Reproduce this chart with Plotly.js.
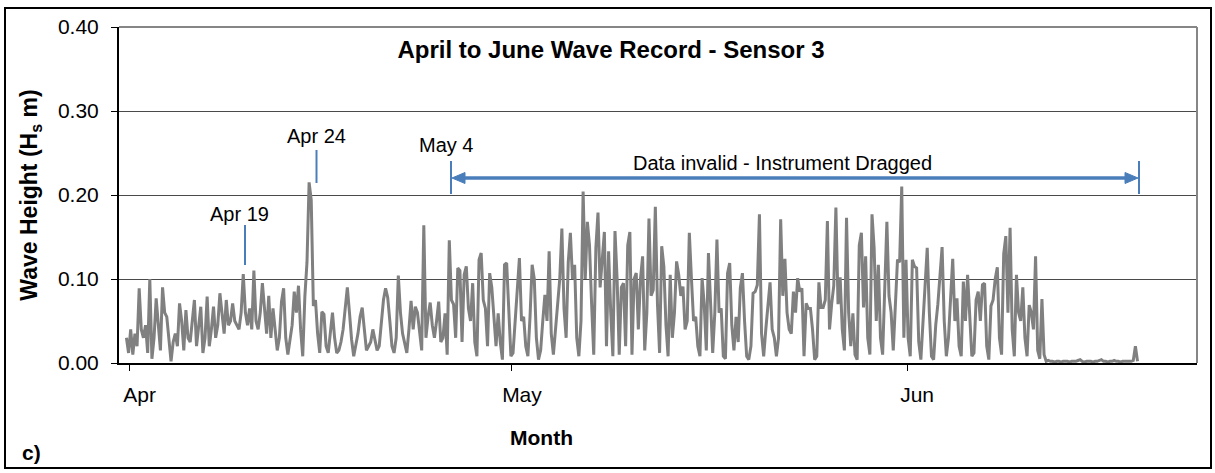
<!DOCTYPE html>
<html>
<head>
<meta charset="utf-8">
<script src="https://cdn.plot.ly/plotly-3.0.1.min.js"></script>
<style>
  html, body { margin: 0; padding: 0; background: #ffffff; }
  #chart { width: 1215px; height: 473px; }
</style>
</head>
<body>
<div id="chart"></div>
<script>
// ---- Data: significant wave height (m), one reading every 4 hours ----
const recordStart = "2013-03-31T18:00:00Z";
const stepHours = 4;

const hsEarlyApril = [
  0.03, 0.012, 0.04, 0.01, 0.035, 0.02, 0.089, 0.04, 0.03, 0.045,
  0.012, 0.10, 0.005, 0.03, 0.077, 0.04, 0.015, 0.09, 0.06, 0.055,
  0.03, 0.002, 0.025, 0.035, 0.02, 0.071, 0.05, 0.015, 0.063, 0.03,
  0.025, 0.05, 0.075, 0.02, 0.04, 0.067, 0.012, 0.03, 0.079, 0.02,
  0.04, 0.067, 0.03, 0.045, 0.083, 0.055, 0.035, 0.075, 0.045, 0.05,
  0.071, 0.05, 0.045, 0.04, 0.06, 0.106, 0.06, 0.045, 0.065, 0.04,
  0.11, 0.05, 0.04, 0.06, 0.095, 0.065, 0.035, 0.08, 0.03, 0.065,
  0.04, 0.015, 0.03
];
const hsMidApril = [
  0.073, 0.089, 0.03, 0.01, 0.03, 0.045, 0.085, 0.06, 0.092, 0.04,
  0.008, 0.079, 0.12, 0.215, 0.194, 0.068, 0.075, 0.035, 0.012, 0.061,
  0.058, 0.02, 0.012, 0.04, 0.06, 0.03, 0.012, 0.015, 0.025, 0.04,
  0.066, 0.09, 0.06, 0.028, 0.008, 0.02, 0.035, 0.055, 0.066, 0.04,
  0.015, 0.02, 0.025, 0.04, 0.025, 0.015, 0.02, 0.045, 0.075, 0.089,
  0.078, 0.05, 0.02, 0.012, 0.03, 0.104, 0.06, 0.035, 0.025, 0.012,
  0.04, 0.074, 0.04, 0.067, 0.06, 0.04, 0.015, 0.164, 0.03, 0.055,
  0.072, 0.045, 0.03
];
const hsLateApril = [
  0.05, 0.073, 0.025, 0.03, 0.059, 0.01, 0.146, 0.075, 0.07, 0.03,
  0.113, 0.11, 0.025, 0.105, 0.115, 0.065, 0.05, 0.095, 0.025, 0.008,
  0.123, 0.131, 0.075, 0.065, 0.02, 0.107, 0.09, 0.05, 0.02, 0.059,
  0.025, 0.004, 0.117, 0.119, 0.06, 0.008, 0.012, 0.05, 0.083, 0.125,
  0.05, 0.055, 0.02, 0.008, 0.055, 0.117, 0.1, 0.03, 0.004, 0.015,
  0.05, 0.081, 0.05, 0.133, 0.035, 0.01, 0.04, 0.07, 0.1, 0.16,
  0.065, 0.03, 0.12, 0.155, 0.1, 0.117, 0.03, 0.008, 0.05, 0.204,
  0.1, 0.168, 0.14
];
const hsEarlyMay = [
  0.07, 0.01, 0.137, 0.179, 0.09, 0.12, 0.156, 0.02, 0.133, 0.06,
  0.008, 0.157, 0.1, 0.01, 0.09, 0.095, 0.02, 0.14, 0.156, 0.01,
  0.1, 0.107, 0.04, 0.1, 0.127, 0.015, 0.06, 0.172, 0.08, 0.087,
  0.186, 0.07, 0.012, 0.139, 0.115, 0.045, 0.008, 0.105, 0.03, 0.06,
  0.121, 0.105, 0.08, 0.091, 0.04, 0.05, 0.155, 0.1, 0.05, 0.055,
  0.02, 0.008, 0.101, 0.07, 0.015, 0.131, 0.06, 0.012, 0.06, 0.147,
  0.06, 0.065, 0.008, 0.005, 0.107, 0.119, 0.045, 0.015, 0.055, 0.025,
  0.089, 0.107, 0.05
];
const hsLateMay = [
  0.008, 0.004, 0.02, 0.083, 0.085, 0.093, 0.177, 0.035, 0.008, 0.04,
  0.067, 0.096, 0.04, 0.03, 0.008, 0.03, 0.171, 0.08, 0.124, 0.06,
  0.04, 0.035, 0.085, 0.06, 0.101, 0.085, 0.089, 0.008, 0.071, 0.065,
  0.065, 0.04, 0.004, 0.008, 0.096, 0.066, 0.066, 0.075, 0.169, 0.04,
  0.07, 0.092, 0.185, 0.07, 0.102, 0.04, 0.015, 0.173, 0.06, 0.02,
  0.059, 0.01, 0.004, 0.14, 0.155, 0.066, 0.127, 0.03, 0.01, 0.177,
  0.137, 0.05, 0.117, 0.03, 0.01, 0.1, 0.168, 0.08, 0.06, 0.015,
  0.08, 0.123, 0.12
];
const hsEarlyJune = [
  0.21, 0.03, 0.123, 0.03, 0.008, 0.123, 0.115, 0.113, 0.025, 0.004,
  0.05, 0.091, 0.137, 0.06, 0.008, 0.004, 0.045, 0.07, 0.1, 0.138,
  0.05, 0.008, 0.03, 0.07, 0.124, 0.05, 0.077, 0.02, 0.008, 0.097,
  0.05, 0.105, 0.06, 0.008, 0.012, 0.075, 0.085, 0.05, 0.093, 0.095,
  0.02, 0.004, 0.068, 0.075, 0.1, 0.114, 0.03, 0.01, 0.13, 0.151,
  0.06, 0.161, 0.04, 0.008, 0.105, 0.06, 0.05, 0.09, 0.03, 0.008,
  0.069, 0.06, 0.04, 0.127, 0.015, 0.005, 0.076, 0.01, 0.002
];
const hsMidJune = [
  0.003, 0.002, 0.002, 0.001, 0.002, 0.002, 0.001, 0.002, 0.002, 0.002,
  0.001, 0.002, 0.002, 0.002, 0.003, 0.004, 0.002, 0.001, 0.002, 0.002,
  0.002, 0.001, 0.002, 0.002, 0.003, 0.004, 0.002, 0.002, 0.001, 0.002,
  0.002, 0.003, 0.002, 0.002, 0.001, 0.002, 0.002, 0.002, 0.002, 0.002,
  0.003, 0.02, 0.002
];

const monthTickDates = ["2013-04-01", "2013-05-01", "2013-06-01"];
const monthTickLabels = ["Apr", "May", "Jun"];

// ---- Build series ----
const waveHeight = [].concat(hsEarlyApril, hsMidApril, hsLateApril, hsEarlyMay,
                             hsLateMay, hsEarlyJune, hsMidJune);
const t0 = Date.parse(recordStart);
const times = waveHeight.map((_, i) =>
  new Date(t0 + i * stepHours * 3600 * 1000).toISOString().slice(0, 16).replace("T", " "));

const FONT = "Arial, 'Liberation Sans', sans-serif";
const BLUE = "#4A7EBB";

// pixel -> paper helpers for decorations (plot area: x 119..1197, y 27..363)
const L = 119, R = 1197, T = 27, B = 363;
const px = x => (x - L) / (R - L);
const py = y => (B - y) / (B - T);

const trace = {
  x: times,
  y: waveHeight,
  type: "scatter",
  mode: "lines",
  line: { color: "#808080", width: 3 },
  hoverinfo: "x+y",
  showlegend: false
};

function vline(xp, y1, y2, color, w) {
  return { type: "line", xref: "paper", yref: "paper",
           x0: px(xp), x1: px(xp), y0: py(y1), y1: py(y2),
           line: { color: color, width: w } };
}
function hline(x1, x2, yp, color, w) {
  return { type: "line", xref: "paper", yref: "paper",
           x0: px(x1), x1: px(x2), y0: py(yp), y1: py(yp),
           line: { color: color, width: w } };
}
function head(tipX, baseX, yc, half, color) {
  const p = "M " + px(tipX) + "," + py(yc) +
            " L " + px(baseX) + "," + py(yc - half) +
            " L " + px(baseX) + "," + py(yc + half) + " Z";
  return { type: "path", xref: "paper", yref: "paper", path: p,
           fillcolor: color, line: { color: color, width: 1 } };
}
function label(text, xc, yc, size, bold) {
  return { xref: "paper", yref: "paper", x: px(xc), y: py(yc),
           xanchor: "center", yanchor: "middle", showarrow: false,
           text: bold ? "<b>" + text + "</b>" : text,
           font: { family: FONT, size: size, color: "#000000" } };
}

const layout = {
  width: 1215,
  height: 473,
  paper_bgcolor: "#ffffff",
  plot_bgcolor: "#ffffff",
  margin: { l: L, r: 1215 - R, t: T, b: 473 - B, pad: 0 },
  font: { family: FONT, color: "#000000" },
  showlegend: false,
  title: {
    text: "<b>April to June Wave Record - Sensor 3</b>",
    font: { family: FONT, size: 24, color: "#000000" },
    xref: "container", yref: "container",
    x: 611 / 1215, y: 1 - 50 / 473,
    xanchor: "center", yanchor: "middle"
  },
  xaxis: {
    type: "date",
    range: ["2013-03-31 04:00", "2013-06-23 18:00"],
    tickmode: "array",
    tickvals: monthTickDates,
    ticktext: monthTickLabels,
    ticks: "outside",
    ticklen: 6,
    tickwidth: 1,
    tickcolor: "#000000",
    ticklabelshift: 10,
    ticklabelstandoff: 6,
    tickfont: { family: FONT, size: 21, color: "#000000" },
    showgrid: false,
    zeroline: false,
    showline: true,
    linecolor: "#000000",
    linewidth: 2,
    fixedrange: true
  },
  yaxis: {
    range: [0, 0.4],
    dtick: 0.1,
    tick0: 0,
    tickformat: ".2f",
    ticks: "outside",
    ticklen: 6,
    tickwidth: 1,
    tickcolor: "#000000",
    ticklabelstandoff: 8,
    tickfont: { family: FONT, size: 21, color: "#000000" },
    showgrid: true,
    gridcolor: "#4a4a4a",
    gridwidth: 1,
    zeroline: false,
    showline: true,
    linecolor: "#000000",
    linewidth: 2,
    title: {
      text: "<b>Wave Height (H<sub>s</sub> m)</b>",
      font: { family: FONT, size: 23, color: "#000000" },
      standoff: 14
    },
    automargin: false,
    fixedrange: true
  },
  shapes: [
    // plot area top / right borders (grey)
    { type: "line", xref: "paper", yref: "paper", x0: 0, x1: 1, y0: 1, y1: 1,
      line: { color: "#868686", width: 2 } },
    { type: "line", xref: "paper", yref: "paper", x0: 1, x1: 1, y0: 0, y1: 1,
      line: { color: "#868686", width: 2 } },
    // outer chart frame
    { type: "rect", xref: "paper", yref: "paper",
      x0: px(5), x1: px(1211), y0: py(468), y1: py(8),
      line: { color: "#000000", width: 2 }, fillcolor: "rgba(0,0,0,0)", layer: "below" },
    // event markers
    vline(245, 225, 265, BLUE, 2),
    vline(316.5, 150, 183, BLUE, 2),
    vline(451, 161, 194, BLUE, 2),
    vline(1139, 161, 194, BLUE, 2),
    // double-headed arrow for the invalid-data period
    hline(462, 1128, 178, BLUE, 3.5),
    head(452, 465, 178, 5.5, BLUE),
    head(1138, 1125, 178, 5.5, BLUE)
  ],
  annotations: [
    label("Apr 19", 239, 214, 20, false),
    label("Apr 24", 316, 136, 20, false),
    label("May 4", 446, 145, 20, false),
    label("Data invalid - Instrument Dragged", 782, 163, 20, false),
    label("Month", 541, 437, 21, true),
    label("c)", 31, 452, 21, true)
  ]
};

Plotly.newPlot("chart", [trace], layout, { displayModeBar: false, responsive: false })
  .then(gd => {
    // drop empty placeholder text nodes (unused axis/sub titles)
    gd.querySelectorAll("svg text").forEach(t => {
      if (!t.textContent || !t.textContent.trim()) t.remove();
    });
  });
</script>
</body>
</html>
